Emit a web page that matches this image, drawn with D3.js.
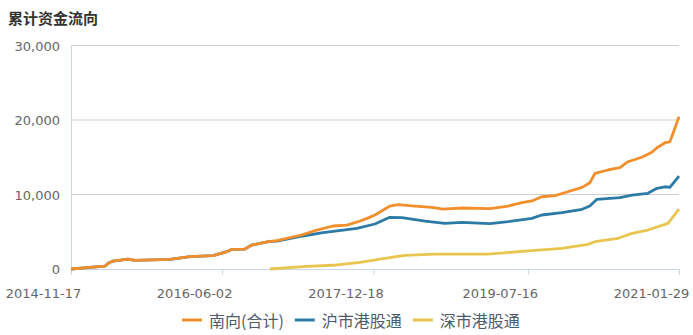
<!DOCTYPE html>
<html lang="zh">
<head>
    <meta charset="UTF-8">
    <title>累计资金流向</title>
    <script src="https://d3js.org/d3.v7.min.js"></script>
    <style>
        body {
            margin: 0;
            background: #fff;
        }
        svg {
            display: block;
        }
        .tick-label {
            font-family: "DejaVu Sans", Verdana, sans-serif;
            font-size: 13px;
            fill: #666;
        }
        .legend text {
            font-family: "Noto Sans CJK SC", sans-serif;
            font-size: 16px;
            fill: #4f5a6c;
        }
    </style>
</head>
<body>
<svg width="693" height="335"></svg>
<script>
    // values (cumulative flow, 亿)
    const seriesNames = ["南向(合计)", "沪市港股通", "深市港股通"];
    const seriesColors = ["#f28e2b", "#2b7ba6", "#e8c54f"];

    const southDates = ["2014-11-17", "2015-03-24", "2015-04-08", "2015-04-22", "2015-06-17", "2015-07-13",
        "2015-11-21", "2016-02-03", "2016-04-29", "2016-06-20", "2016-07-09", "2016-08-26", "2016-09-21",
        "2016-10-21", "2016-11-27", "2016-12-23", "2017-03-08", "2017-03-30", "2017-05-21", "2017-07-20",
        "2017-09-10", "2017-10-29", "2017-11-24", "2017-12-23", "2018-01-11", "2018-02-17", "2018-03-19",
        "2018-05-21", "2018-07-24", "2018-09-03", "2018-11-12", "2019-02-25", "2019-05-03", "2019-06-24",
        "2019-07-31", "2019-09-06", "2019-10-25", "2019-12-12", "2020-02-03", "2020-03-03", "2020-03-22",
        "2020-05-09", "2020-06-23", "2020-07-23", "2020-09-13", "2020-10-20", "2020-11-08", "2020-12-08",
        "2020-12-26", "2021-01-07", "2021-01-29"];
    const southValues = [0, 400, 850, 1070, 1340, 1170,
        1300, 1650, 1790, 2320, 2640, 2680, 3220,
        3450, 3710, 3800, 4430, 4620, 5230, 5770,
        5900, 6440, 6800, 7250, 7650, 8450, 8630,
        8450, 8280, 8050, 8190, 8100, 8450, 8900,
        9130, 9700, 9840, 10370, 10960, 11580, 12840,
        13290, 13600, 14400, 15000, 15660, 16280, 16950,
        17080, 18210, 20440];

    const shDates = ["2014-11-17", "2015-03-24", "2015-04-08", "2015-04-22", "2015-06-17", "2015-07-13",
        "2015-11-21", "2016-02-03", "2016-04-29", "2016-06-20", "2016-07-09", "2016-08-26", "2016-09-21",
        "2016-10-21", "2016-11-27", "2016-12-23", "2017-03-30", "2017-06-13", "2017-08-26", "2017-10-17",
        "2017-12-23", "2018-02-17", "2018-04-03", "2018-06-28", "2018-09-10", "2018-11-12", "2019-02-25",
        "2019-05-03", "2019-07-31", "2019-09-06", "2019-11-20", "2020-02-03", "2020-03-03", "2020-03-29",
        "2020-06-23", "2020-08-07", "2020-10-05", "2020-11-08", "2020-12-08", "2020-12-26", "2021-01-29"];
    const shValues = [0, 400, 850, 1070, 1340, 1170,
        1300, 1650, 1790, 2320, 2640, 2680, 3220,
        3450, 3700, 3750, 4430, 4870, 5230, 5460,
        6040, 6940, 6890, 6440, 6130, 6270, 6080,
        6350, 6800, 7250, 7560, 8010, 8450, 9350,
        9570, 9930, 10160, 10830, 11040, 10960, 12480];

    const szDates = ["2016-11-27", "2017-03-30", "2017-08-04", "2017-10-29", "2018-01-11", "2018-04-14",
        "2018-08-04", "2019-02-17", "2019-07-31", "2019-11-20", "2020-02-25", "2020-03-22", "2020-06-16",
        "2020-08-07", "2020-10-05", "2020-12-19", "2021-01-29"];
    const szValues = [0, 310, 540, 900, 1340, 1840,
        2010, 2010, 2460, 2780, 3310, 3660, 4120,
        4790, 5230, 6130, 8050];

    const xTickDates = ["2014-11-17", "2016-06-02", "2017-12-18", "2019-07-16", "2021-01-29"];
    const yTicks = [0, 10000, 20000, 30000];

    const parse = d3.timeParse("%Y-%m-%d");
    const svg = d3.select("svg");
    const plotLeft = 71, plotRight = 679, plotTop = 45.5, plotBottom = 269;

    const x = d3.scaleTime()
        .domain([parse("2014-11-17"), parse("2021-01-29")])
        .range([plotLeft, plotRight]);
    const y = d3.scaleLinear().domain([0, 30000]).range([plotBottom, plotTop]);

    // title
    svg.append("text")
        .attr("x", 8).attr("y", 24)
        .attr("font-family", "'Noto Sans CJK SC', sans-serif")
        .attr("font-size", 15)
        .attr("font-weight", "bold")
        .attr("fill", "#333")
        .text("累计资金流向");

    // gridlines
    svg.append("g")
        .selectAll("line")
        .data(yTicks.filter(d => d > 0))
        .join("line")
        .attr("x1", plotLeft).attr("x2", plotRight)
        .attr("y1", d => y(d)).attr("y2", d => y(d))
        .attr("stroke", "#cfcfcf")
        .attr("stroke-width", 1);

    // y axis
    const yAxis = svg.append("g")
        .attr("transform", `translate(${plotLeft},0)`)
        .call(d3.axisLeft(y).tickValues(yTicks).tickSize(0).tickPadding(11).tickFormat(d3.format(",")));
    yAxis.select(".domain").attr("stroke", "#c9d6e8").attr("d", `M0.5,${plotTop}V${plotBottom}`);
    yAxis.selectAll("text").attr("class", "tick-label").attr("dy", "0.35em");

    // x axis
    const xAxis = svg.append("g")
        .attr("transform", `translate(0,${plotBottom})`)
        .call(d3.axisBottom(x).tickValues(xTickDates.map(parse)).tickSize(6).tickPadding(10)
            .tickFormat(d3.timeFormat("%Y-%m-%d")));
    xAxis.select(".domain").attr("stroke", "#c9d6e8").attr("d", `M${plotLeft},0.5H${plotRight}`);
    xAxis.selectAll(".tick line").attr("stroke", "#c9d6e8");
    xAxis.selectAll("text").attr("class", "tick-label").attr("dx", -28).attr("dy", "1em");

    // lines
    const line = d3.line()
        .x(d => x(d[0]))
        .y(d => y(d[1]));
    const series = [
        { dates: szDates, values: szValues, color: seriesColors[2] },
        { dates: shDates, values: shValues, color: seriesColors[1] },
        { dates: southDates, values: southValues, color: seriesColors[0] }
    ];
    series.forEach(s => {
        const pts = s.dates.map((d, i) => [parse(d), s.values[i]]);
        svg.append("path")
            .datum(pts)
            .attr("fill", "none")
            .attr("stroke", s.color)
            .attr("stroke-width", 2.8)
            .attr("stroke-linejoin", "round")
            .attr("d", line);
    });

    // legend
    const legend = svg.append("g").attr("class", "legend");
    let lx = 182;
    const ly = 320;
    seriesNames.forEach((name, i) => {
        legend.append("line")
            .attr("x1", lx).attr("x2", lx + 20)
            .attr("y1", ly).attr("y2", ly)
            .attr("stroke", seriesColors[i])
            .attr("stroke-width", 3);
        const t = legend.append("text")
            .attr("x", lx + 27).attr("y", ly)
            .attr("dominant-baseline", "central")
            .text(name);
        lx += 27 + t.node().getComputedTextLength() + 11;
    });
</script>
</body>
</html>
